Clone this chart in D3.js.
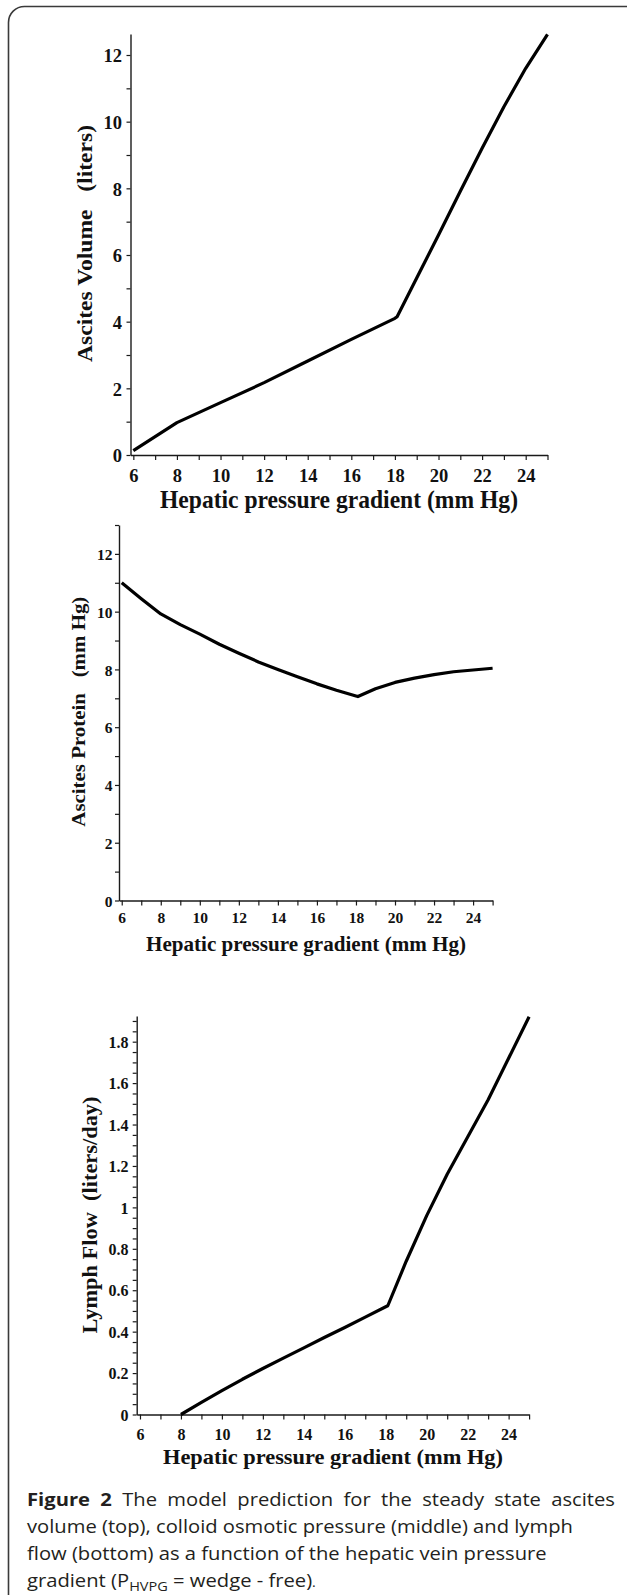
<!DOCTYPE html>
<html><head><meta charset="utf-8">
<script src="https://cdn.jsdelivr.net/npm/d3@7"></script>
<style>body{margin:0;background:#fff}svg{display:block}</style>
</head><body>
<svg id="fig" width="627" height="1595"></svg>
<script>
// ---------- data ----------
const hvpgVolume = [6, 8, 10, 12, 14, 16, 18, 18.1, 19, 20, 21, 22, 23, 24, 25];
const ascitesVolume = [0.13, 0.97, 1.57, 2.17, 2.82, 3.47, 4.1, 4.15, 5.31, 6.6, 7.91, 9.2, 10.45, 11.6, 12.62];

const hvpgProtein = [6, 7, 8, 9, 10, 11, 12, 13, 14, 15, 16, 17, 18, 18.1, 19, 20, 21, 22, 23, 24, 25];
const ascitesProtein = [11.0, 10.45, 9.92, 9.55, 9.22, 8.87, 8.56, 8.26, 8.0, 7.75, 7.5, 7.28, 7.08, 7.06, 7.33, 7.55, 7.7, 7.82, 7.92, 7.98, 8.04];

const hvpgLymph = [8, 9, 10, 11, 12, 13, 14, 15, 16, 17, 18, 18.1, 19, 20, 21, 22, 23, 24, 25];
const lymphFlow = [0, 0.058, 0.115, 0.17, 0.222, 0.272, 0.322, 0.372, 0.42, 0.47, 0.52, 0.525, 0.74, 0.96, 1.16, 1.34, 1.52, 1.72, 1.92];

const xTickLabels = [6, 8, 10, 12, 14, 16, 18, 20, 22, 24];
const volumeTickLabels = [0, 2, 4, 6, 8, 10, 12];
const proteinTickLabels = [0, 2, 4, 6, 8, 10, 12];
const lymphTickLabels = [0, 0.2, 0.4, 0.6, 0.8, 1, 1.2, 1.4, 1.6, 1.8];

const xTitle = "Hepatic pressure gradient (mm Hg)";
const yTitleVolume = "Ascites Volume   (liters)";
const yTitleProtein = "Ascites Protein   (mm Hg)";
const yTitleLymph = "Lymph Flow  (liters/day)";

const captionBold = "Figure 2";
const captionLine1 = " The model prediction for the steady state ascites";
const captionLine2 = "volume (top), colloid osmotic pressure (middle) and lymph";
const captionLine3 = "flow (bottom) as a function of the hepatic vein pressure";
const captionLine4a = "gradient (P";
const captionLine4sub = "HVPG";
const captionLine4b = " = wedge - free)";

// ---------- drawing ----------
const svg = d3.select("#fig");
const SERIF = "'Liberation Serif','Times New Roman',Times,serif";

// outer rounded frame
svg.append("rect")
  .attr("x", 8.5).attr("y", 6.5).attr("width", 640).attr("height", 1640)
  .attr("rx", 16).attr("ry", 16)
  .attr("fill", "none").attr("stroke", "#3a3a3a").attr("stroke-width", 1.6);

function drawPanel(c) {
  const x = d3.scaleLinear().domain(c.xDomain).range(c.xRange);
  const y = d3.scaleLinear().domain(c.yDomain).range(c.yRange);
  const g = svg.append("g");
  const x0 = c.xRange[0], y0 = c.yRange[0];

  const xa = g.append("g").attr("transform", `translate(0,${y0})`)
    .call(d3.axisBottom(x).tickValues(d3.range(6, 26)).tickSize(5).tickSizeOuter(0)
      .tickFormat(d => xTickLabels.includes(d) ? d : ""));
  const ya = g.append("g").attr("transform", `translate(${x0},0)`)
    .call(d3.axisLeft(y).tickValues(c.yTicks).tickSize(4).tickSizeOuter(0)
      .tickFormat(d => {
        const m = c.yLabels.find(v => Math.abs(v - d) < 1e-9);
        return m === undefined ? "" : String(m);
      }));

  [xa, ya].forEach(a => {
    a.select(".domain").attr("stroke", "#1a1a1a").attr("stroke-width", 1.4);
    a.selectAll(".tick line").attr("stroke", "#1a1a1a").attr("stroke-width", 1.2);
    a.selectAll("text").attr("font-family", SERIF).attr("font-weight", "bold")
      .attr("font-size", c.tickFont).attr("fill", "#111");
  });
  xa.selectAll("text").attr("y", c.xLabelBase).attr("dy", null);
  ya.selectAll("text").attr("x", -c.yLabelGap).attr("dy", "0.36em");

  g.append("text")
    .attr("x", c.xTitle.cx).attr("y", c.xTitle.base)
    .attr("text-anchor", "middle")
    .attr("font-family", SERIF).attr("font-weight", "bold")
    .attr("font-size", c.xTitle.font).attr("fill", "#111")
    .attr("textLength", c.xTitle.len).attr("lengthAdjust", "spacingAndGlyphs")
    .text(xTitle);
  g.append("text")
    .attr("transform", `translate(${c.yTitle.base},${c.yTitle.cy}) rotate(-90)`)
    .attr("text-anchor", "middle")
    .attr("font-family", SERIF).attr("font-weight", "bold")
    .attr("font-size", c.yTitle.font).attr("fill", "#111")
    .attr("textLength", c.yTitle.len).attr("lengthAdjust", "spacingAndGlyphs")
    .style("white-space", "pre")
    .text(c.yTitle.text);

  const pts = c.xs.map((v, i) => [v, c.ys[i]]);
  g.append("path")
    .attr("d", d3.line().x(d => x(d[0])).y(d => y(d[1]))(pts))
    .attr("fill", "none").attr("stroke", "#000").attr("stroke-width", 3.2)
    .attr("stroke-linejoin", "round").attr("stroke-linecap", "butt");
}

drawPanel({
  xs: hvpgVolume, ys: ascitesVolume,
  xDomain: [5.87, 25], xRange: [130.5, 547.5],
  yDomain: [0, 12.63], yRange: [455, 34],
  yTicks: d3.range(0, 13), yLabels: volumeTickLabels,
  tickFont: 18.5, xLabelBase: 26.5, yLabelGap: 8.5,
  xTitle: {cx: 339, base: 508, font: 24.5, len: 358},
  yTitle: {text: yTitleVolume, base: 92, cy: 243.5, font: 20, len: 237}
});

drawPanel({
  xs: hvpgProtein, ys: ascitesProtein,
  xDomain: [5.86, 25], xRange: [119, 492.6],
  yDomain: [0, 13], yRange: [900.5, 525],
  yTicks: d3.range(0, 14), yLabels: proteinTickLabels,
  tickFont: 15.5, xLabelBase: 22.8, yLabelGap: 6.5,
  xTitle: {cx: 306, base: 951, font: 22, len: 320},
  yTitle: {text: yTitleProtein, base: 85, cy: 711.7, font: 18, len: 230}
});

drawPanel({
  xs: hvpgLymph, ys: lymphFlow,
  xDomain: [5.84, 25], xRange: [136.7, 529.1],
  yDomain: [0, 1.924], yRange: [1414.5, 1016],
  yTicks: d3.range(0, 39).map(i => +(i * 0.05).toFixed(2)), yLabels: lymphTickLabels,
  tickFont: 16, xLabelBase: 25.5, yLabelGap: 8.2,
  xTitle: {cx: 333, base: 1464, font: 21, len: 340},
  yTitle: {text: yTitleLymph, base: 97, cy: 1215, font: 20.5, len: 237}
});

// ---------- caption ----------
const SANS = "'Open Sans','Noto Sans',sans-serif";
const cap = svg.append("g").attr("fill", "#231f20").attr("font-family", SANS);
const fs = 18.5;
const probe = cap.append("text").attr("font-size", fs).text(captionLine2);
const w2 = probe.node().getComputedTextLength();
probe.remove();
const sx = 546 / w2;           // horizontal stretch of the wide caption face
const leftX = 27;
const bases = [1505.7, 1533, 1560, 1587];
function capLine(i) {
  return cap.append("text").attr("x", 0).attr("y", 0).attr("font-size", fs)
    .attr("transform", `translate(${leftX},${bases[i]}) scale(${sx},1)`)
    .style("white-space", "pre");
}
const l1 = capLine(0);
l1.append("tspan").attr("font-weight", "bold").text(captionBold);
l1.append("tspan").text(captionLine1);
const w1 = l1.node().getComputedTextLength();
const nSpaces = (captionBold + captionLine1).split(" ").length - 1;
l1.attr("word-spacing", Math.max(0, (588 / sx - w1) / nSpaces));

capLine(1).text(captionLine2);
capLine(2).text(captionLine3);
const l4 = capLine(3);
l4.append("tspan").text(captionLine4a);
l4.append("tspan").attr("font-size", fs * 0.72).attr("dy", 4).text(captionLine4sub);
l4.append("tspan").attr("dy", -4).text(captionLine4b);
l4.append("tspan").attr("font-size", fs * 0.7).text(".");
</script>
</body></html>
